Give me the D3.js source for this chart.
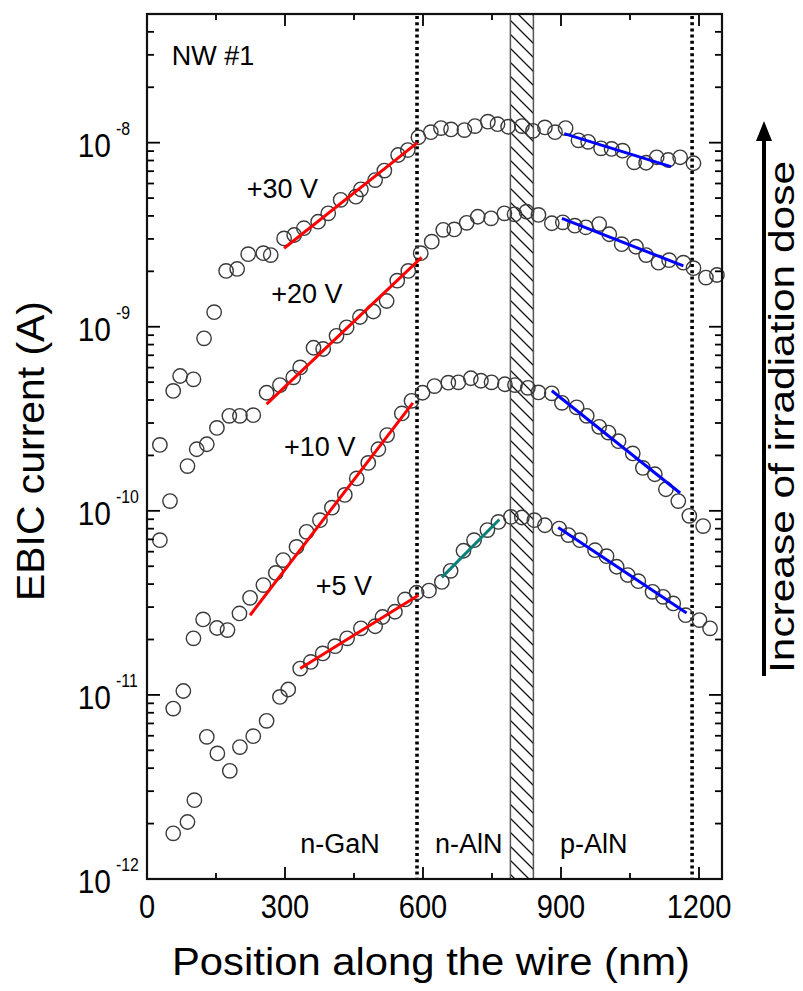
<!DOCTYPE html>
<html><head><meta charset="utf-8">
<script src="https://cdn.jsdelivr.net/npm/d3@7/dist/d3.min.js"></script>
<style>
body{margin:0;background:#fff}
text{font-family:"Liberation Sans",Arial,Helvetica,sans-serif;fill:#000}
</style>
</head><body>
<svg id="chart" width="803" height="991"></svg>
<script>
// ---------------- data (position nm, EBIC current A) ----------------
const series30 = [[28,2.28e-10],[57,4.48e-10],[72,5.40e-10],[101,5.18e-10],[124,8.65e-10],[146,1.20e-9],[172,2.01e-9],[196,2.06e-9],[220,2.48e-9],[253,2.51e-9],[269,2.45e-9],[298,3.02e-9],[320,3.15e-9],[341,3.43e-9],[372,3.72e-9],[394,4.13e-9],[421,4.89e-9],[454,5.09e-9],[465,5.58e-9],[496,6.26e-9],[516,7.05e-9],[546,8.57e-9],[567,9.12e-9],[590,1.07e-8],[617,1.14e-8],[639,1.20e-8],[661,1.18e-8],[690,1.17e-8],[713,1.23e-8],[741,1.30e-8],[762,1.26e-8],[785,1.22e-8],[815,1.23e-8],[839,1.16e-8],[865,1.21e-8],[887,1.14e-8],[910,1.20e-8],[938,1.03e-8],[959,1.01e-8],[987,9.32e-9],[1010,9.25e-9],[1034,9.05e-9],[1059,7.82e-9],[1085,7.78e-9],[1108,8.33e-9],[1133,8.05e-9],[1159,8.33e-9],[1188,7.73e-9]];
const series20 = [[28,6.93e-11],[50,1.13e-10],[88,1.75e-10],[108,2.16e-10],[130,2.30e-10],[152,2.82e-10],[179,3.28e-10],[202,3.28e-10],[231,3.31e-10],[260,4.38e-10],[289,4.82e-10],[318,5.31e-10],[333,6.01e-10],[362,7.69e-10],[383,7.57e-10],[412,8.93e-10],[434,9.93e-10],[463,1.13e-9],[492,1.21e-9],[521,1.38e-9],[544,1.78e-9],[568,2.01e-9],[595,2.51e-9],[619,2.90e-9],[644,3.36e-9],[668,3.38e-9],[695,3.67e-9],[719,3.96e-9],[748,3.88e-9],[777,4.13e-9],[799,4.08e-9],[825,4.22e-9],[851,4.05e-9],[880,3.65e-9],[904,3.69e-9],[930,3.54e-9],[954,3.47e-9],[983,3.61e-9],[1005,3.18e-9],[1032,2.81e-9],[1063,2.72e-9],[1085,2.45e-9],[1112,2.23e-9],[1135,2.30e-9],[1166,2.23e-9],[1188,2.08e-9],[1215,1.85e-9],[1239,1.91e-9]];
const series10 = [[57,8.43e-12],[79,1.05e-11],[101,2.03e-11],[122,2.57e-11],[152,2.31e-11],[175,2.25e-11],[201,2.77e-11],[224,3.37e-11],[253,3.95e-11],[280,4.60e-11],[296,5.40e-11],[325,6.37e-11],[347,7.69e-11],[376,8.90e-11],[402,1.04e-10],[430,1.22e-10],[456,1.50e-10],[481,1.82e-10],[503,2.16e-10],[522,2.58e-10],[554,3.38e-10],[575,3.96e-10],[599,4.38e-10],[625,4.76e-10],[655,4.97e-10],[677,4.99e-10],[704,5.25e-10],[726,5.09e-10],[749,4.99e-10],[778,4.87e-10],[800,4.82e-10],[828,4.66e-10],[851,4.40e-10],[880,4.35e-10],[902,3.86e-10],[934,3.65e-10],[956,3.28e-10],[983,2.86e-10],[1003,2.66e-10],[1025,2.39e-10],[1056,2.05e-10],[1078,1.71e-10],[1104,1.58e-10],[1128,1.31e-10],[1155,1.13e-10],[1179,9.39e-11],[1209,8.26e-11]];
const series5 = [[57,1.77e-12],[88,2.04e-12],[103,2.68e-12],[130,5.92e-12],[153,4.81e-12],[180,3.87e-12],[202,5.21e-12],[231,5.97e-12],[260,7.23e-12],[289,9.75e-12],[307,1.07e-11],[333,1.39e-11],[356,1.51e-11],[382,1.68e-11],[409,1.84e-11],[435,2.03e-11],[465,2.30e-11],[496,2.36e-11],[512,2.65e-11],[539,2.83e-11],[561,3.30e-11],[586,3.59e-11],[613,3.69e-11],[641,4.11e-11],[660,4.72e-11],[688,6.07e-11],[711,6.93e-11],[740,7.86e-11],[764,8.71e-11],[791,9.27e-11],[815,9.20e-11],[842,8.90e-11],[865,8.35e-11],[896,8.01e-11],[916,7.38e-11],[941,6.93e-11],[974,6.11e-11],[999,5.67e-11],[1021,4.97e-11],[1045,4.48e-11],[1068,4.15e-11],[1099,3.63e-11],[1122,3.41e-11],[1144,3.14e-11],[1171,2.71e-11],[1201,2.55e-11],[1224,2.30e-11]];

// linear fits (start, end) in data units
const fitsGaN  = [[[298,2.67e-9],[588,1.0e-8]], [[260,3.80e-10],[597,2.38e-9]], [[224,2.71e-11],[578,3.86e-10]], [[333,1.39e-11],[590,3.48e-11]]];
const fitsNAlN = [[[641,4.35e-11],[766,8.97e-11]]];
const fitsPAlN = [[[907,1.12e-8],[1139,7.41e-9]], [[902,3.88e-9],[1166,2.14e-9]], [[880,4.49e-10],[1159,1.25e-10]], [[894,8.13e-11],[1173,2.79e-11]]];

const junctions = [587, 1185];
const barrier = [790, 840];

const xMajor = [0, 300, 600, 900, 1200];
const xMinor = [150, 450, 750, 1050];
const yExponents = [-12, -11, -10, -9, -8];

const voltLabels = [["+30 V",217,5.0e-9],["+20 V",270,1.35e-9],["+10 V",298,1.98e-10],["+5 V",367,3.48e-11]];
const regionLabels = [["n-GaN",333],["n-AlN",626],["p-AlN",898]];

// ---------------- chart ----------------
const svg = d3.select("#chart");
const L = 147, R = 722, T = 14, B = 879;
const x = d3.scaleLinear().domain([0, 1250]).range([L, R]);
const y = d3.scaleLog().domain([1e-12, 5e-8]).range([B, T]);

// hatch pattern
const defs = svg.append("defs");
const pat = defs.append("pattern").attr("id","hatch").attr("patternUnits","userSpaceOnUse")
  .attr("width",14).attr("height",14);
pat.append("path").attr("d","M-2,-2 L16,16 M-2,12 L2,16 M12,-2 L16,2")
  .attr("stroke","#111").attr("stroke-width",1.3);

svg.append("rect")
  .attr("x", x(barrier[0])).attr("y", T)
  .attr("width", x(barrier[1]) - x(barrier[0])).attr("height", B - T)
  .attr("fill","url(#hatch)").attr("stroke","#555").attr("stroke-width",1.5);

// junction dotted lines
svg.selectAll(".junc").data(junctions).enter().append("line")
  .attr("x1", d => x(d)).attr("x2", d => x(d)).attr("y1", T + 2).attr("y2", B)
  .attr("stroke","#000").attr("stroke-width",3.6).attr("stroke-dasharray","3,3.2");

// data points
[series30, series20, series10, series5].forEach(s => {
  svg.append("g").selectAll("circle").data(s).enter().append("circle")
    .attr("cx", d => x(d[0])).attr("cy", d => y(d[1])).attr("r", 7.2)
    .attr("fill","none").attr("stroke","#3a3a3a").attr("stroke-width",1.4);
});

// fit lines
const line = d3.line().x(d => x(d[0])).y(d => y(d[1]));
function drawFits(arr, color){
  svg.append("g").selectAll("path").data(arr).enter().append("path")
    .attr("d", line).attr("stroke", color).attr("stroke-width",3).attr("fill","none");
}
drawFits(fitsGaN, "#ff0000");
drawFits(fitsNAlN, "#0a7f7a");
drawFits(fitsPAlN, "#0000ff");

// axes (ticks inward on all four sides)
function tickLenX(v){ return xMajor.includes(v) ? 12 : 6; }
const xAll = xMajor.concat(xMinor);
const gx = svg.append("g");
xAll.forEach(v => {
  gx.append("line").attr("x1",x(v)).attr("x2",x(v)).attr("y1",B).attr("y2",B - tickLenX(v)).attr("stroke","#000").attr("stroke-width",1.8);
  gx.append("line").attr("x1",x(v)).attr("x2",x(v)).attr("y1",T).attr("y2",T + tickLenX(v)).attr("stroke","#000").attr("stroke-width",1.8);
});
const yTicks = [];
for (let e = -12; e <= -8; e++) {
  for (let m = 1; m <= 9; m++) {
    const v = m * Math.pow(10, e);
    if (v <= 5.0001e-8) yTicks.push([v, m === 1]);
  }
}
const gy = svg.append("g");
yTicks.forEach(([v, major]) => {
  const len = major ? 13 : 7;
  gy.append("line").attr("x1",L).attr("x2",L + len).attr("y1",y(v)).attr("y2",y(v)).attr("stroke","#000").attr("stroke-width",1.8);
  gy.append("line").attr("x1",R).attr("x2",R - len).attr("y1",y(v)).attr("y2",y(v)).attr("stroke","#000").attr("stroke-width",1.8);
});

// frame
svg.append("rect").attr("x",L).attr("y",T).attr("width",R-L).attr("height",B-T)
  .attr("fill","none").attr("stroke","#111").attr("stroke-width",2.2);

function squeeze(sel, f){ sel.each(function(){ const w = this.getComputedTextLength(); d3.select(this).attr("textLength", w*f).attr("lengthAdjust","spacingAndGlyphs"); }); }

// x tick labels
const xl = svg.append("g").selectAll("text").data(xMajor).enter().append("text")
  .attr("x", d => x(d)).attr("y", 918).attr("text-anchor","middle")
  .style("font-size","33px").text(d => d);
squeeze(xl, 0.88);

// y tick labels
yExponents.forEach(e => {
  const yy = y(Math.pow(10, e));
  const t = svg.append("text").attr("x",111).attr("y",yy + 14).attr("text-anchor","end")
    .style("font-size","34px").text("10");
  squeeze(t, 0.88);
  const s = svg.append("text").attr("x",116).attr("y",yy - 8).attr("text-anchor","start")
    .style("font-size","18px").text("-" + Math.abs(e));
  squeeze(s, 0.88);
});

// axis titles
svg.append("text").attr("x", 431).attr("y", 975).attr("text-anchor","middle")
  .style("font-size","38px").attr("textLength",518).attr("lengthAdjust","spacingAndGlyphs")
  .text("Position along the wire (nm)");
svg.append("text").attr("transform","translate(44,451) rotate(-90)").attr("text-anchor","middle")
  .style("font-size","38px").attr("textLength",300).attr("lengthAdjust","spacingAndGlyphs")
  .text("EBIC current (A)");

// annotations
svg.append("text").attr("x", x(54)).attr("y", y(2.64e-8)).style("font-size","27px").text("NW #1");
voltLabels.forEach(([t, px, py]) => {
  svg.append("text").attr("x", x(px)).attr("y", y(py)).style("font-size","27px").text(t);
});
regionLabels.forEach(([t, px]) => {
  svg.append("text").attr("x", x(px)).attr("y", y(1.38e-12)).style("font-size","27px").text(t);
});

// right-side arrow and text
svg.append("line").attr("x1",764).attr("x2",764).attr("y1",676).attr("y2",136)
  .attr("stroke","#000").attr("stroke-width",4);
svg.append("path").attr("d","M764,121 L756,141 L772,141 Z").attr("fill","#000");
svg.append("text").attr("transform","translate(794,417) rotate(-90)").attr("text-anchor","middle")
  .style("font-size","35px").attr("textLength",512).attr("lengthAdjust","spacingAndGlyphs")
  .text("Increase of irradiation dose");
</script>
</body></html>
